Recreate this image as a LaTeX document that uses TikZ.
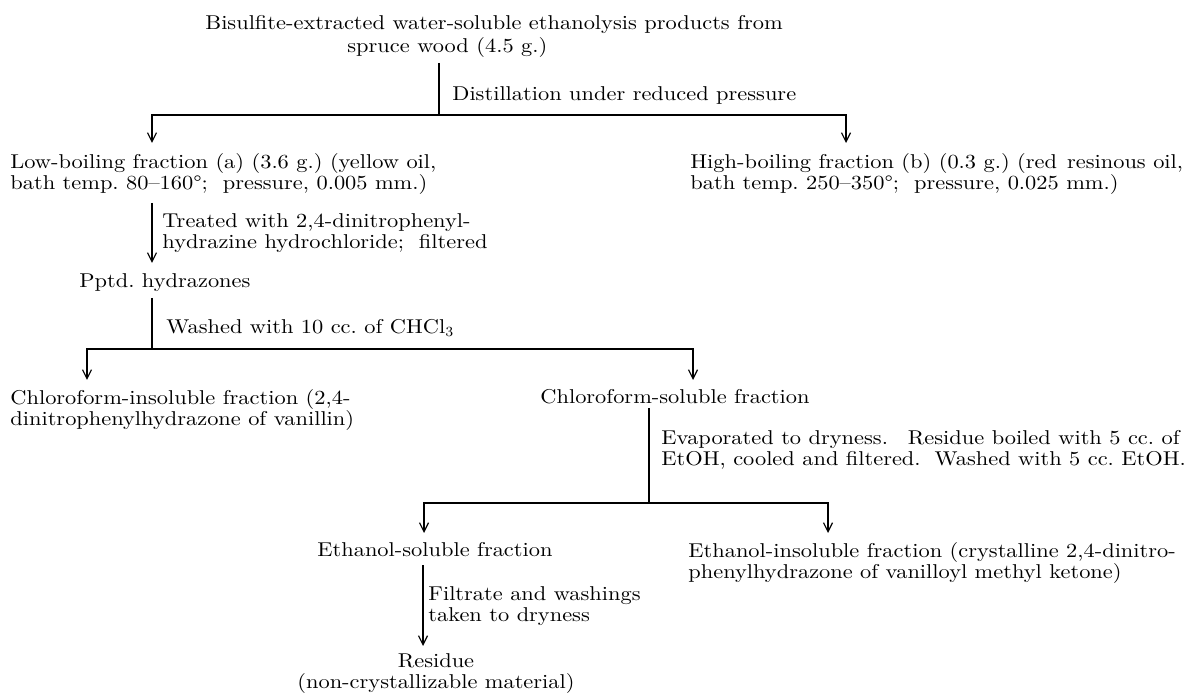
\documentclass[tikz,border=0pt]{standalone}
\usepackage{fontspec}
\setmainfont{Latin Modern Roman}[FakeStretch=1.12]
\usetikzlibrary{arrows.meta}
\frenchspacing
\begin{document}
\frenchspacing
\begin{tikzpicture}[x=0.5pt,y=-0.5pt,
  txt/.style={inner sep=0pt, anchor=north west, align=left, font=\fontsize{10pt}{10.5pt}\selectfont},
  ln/.style={line width=0.6pt},
  arr/.style={ln,-{Straight Barb[length=4.5pt,width=4.5pt,line width=0.6pt]}}]
\useasboundingbox (0,0) rectangle (1189,694);
% nodes
\node[txt, font=\fontsize{10pt}{11.5pt}\selectfont] (src) at (205,15) {Bisulfite-extracted water-soluble ethanolysis products from\\\hspace*{71pt}spruce wood (4.5 g.)};
\node[txt] (dist) at (452,86) {Distillation under reduced pressure};
\node[txt] (lb) at (10,153) {Low-boiling fraction (a) (3.6 g.) (yellow oil,\\bath temp. 80–160°; \ pressure, 0.005 mm.)};
\node[txt] (hb) at (690,153) {High-boiling fraction (b) (0.3 g.) (red\hspace{5pt}resinous oil,\\bath temp. 250–350°; \ pressure, 0.025 mm.)};
\node[txt] (treat) at (162,213) {Treated with 2,4-dinitrophenyl-\\hydrazine hydrochloride; \ filtered};
\node[txt] (pp) at (79,273) {Pptd. hydrazones};
\node[txt] (wash) at (166,319) {Washed with 10 cc. of CHCl$_3$};
\node[txt] (ci) at (10,389) {Chloroform-insoluble fraction (2,4-\\dinitrophenylhydrazone of vanillin)};
\node[txt] (cs) at (540,389) {Chloroform-soluble fraction};
\node[txt] (evap) at (661,430) {Evaporated to dryness.\hspace{10pt}Residue boiled with 5 cc. of\\EtOH, cooled and filtered.\hspace{7pt}Washed with 5 cc. EtOH.};
\node[txt] (es) at (317,542) {Ethanol-soluble fraction};
\node[txt] (ei) at (688,542) {Ethanol-insoluble fraction (crystalline 2,4-dinitro-\\phenylhydrazone of vanilloyl methyl ketone)};
\node[txt] (filt) at (428,586) {Filtrate and washings\\taken to dryness};
\node[txt, anchor=north, align=center] (res) at (436,653) {Residue\\(non-crystallizable material)};
% junctions
\coordinate (j1) at (439,115);
\coordinate (j2) at (152,349);
\coordinate (j3) at (649,503);
\coordinate (xa) at (152,0);
\coordinate (xb) at (423,0);
% connectors
\draw[ln, shorten <=2.5pt] (src.south -| j1) -- (j1);
\draw[arr] (j1) -| ([xshift=71pt,yshift=5pt]lb.north west);
\draw[arr] (j1) -| ([xshift=78pt,yshift=5pt]hb.north west);
\draw[arr, shorten <=4pt, shorten >=5pt] (lb.south -| xa) -- (pp.north -| xa);
\draw[ln, shorten <=3pt] (pp.south -| xa) -- (j2);
\draw[arr] (j2) -| ([xshift=38.5pt,yshift=4.5pt]ci.north west);
\draw[arr] (j2) -| ([xshift=76.5pt,yshift=4.5pt]cs.north west);
\draw[ln, shorten <=2pt] (cs.south -| j3) -- (j3);
\draw[arr] (j3) -| ([xshift=53.5pt,yshift=4.5pt]es.north west);
\draw[arr] (j3) -| ([xshift=70pt,yshift=4.5pt]ei.north west);
\draw[arr, shorten <=4pt, shorten >=3.5pt] (es.south -| xb) -- (res.north -| xb);
\end{tikzpicture}
\end{document}
